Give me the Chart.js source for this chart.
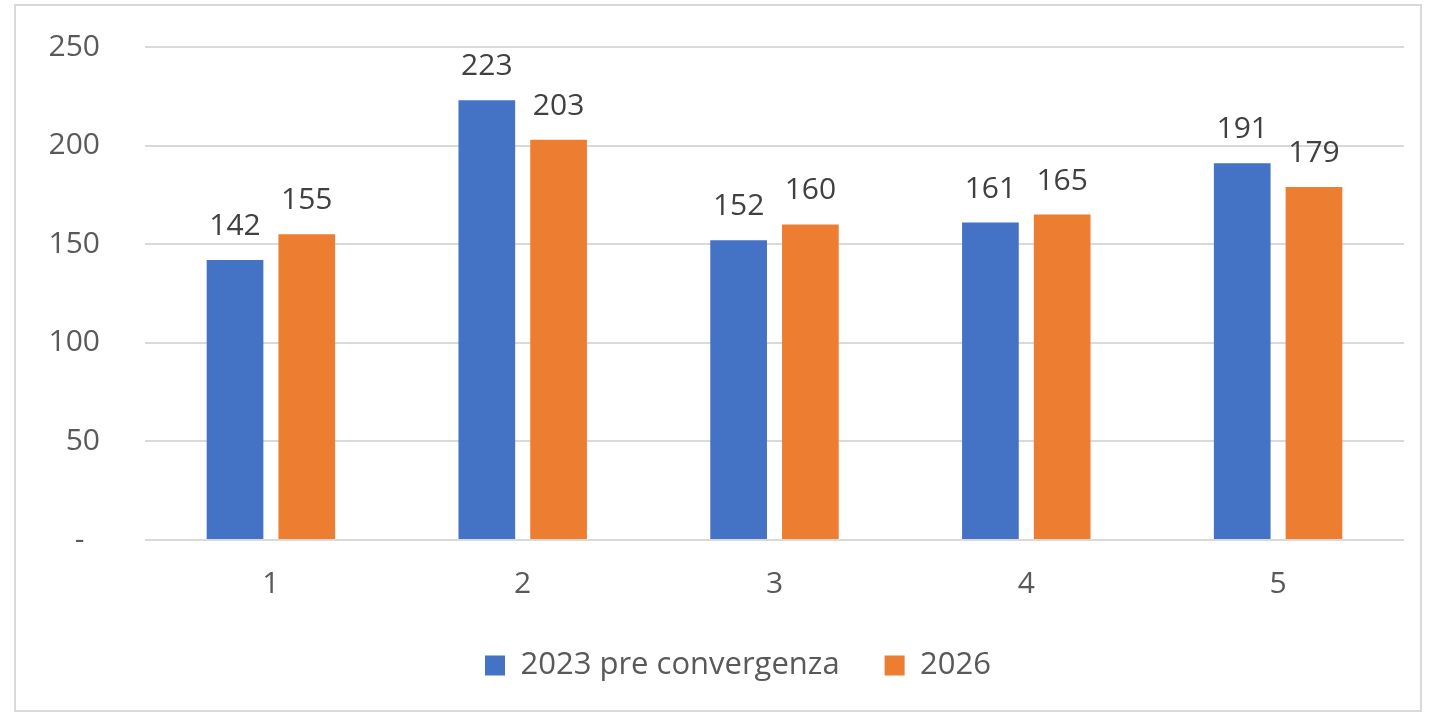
<!DOCTYPE html>
<html>
<head>
<meta charset="utf-8">
<script src="https://cdn.jsdelivr.net/npm/chart.js@4"></script>
<style>
  body { margin: 0; background: #fff; }
  #box {
    position: absolute; left: 14px; top: 4px; width: 1408px; height: 708px;
    box-sizing: border-box; border: 2px solid #d9d9d9; background: #fff;
  }
  #chart { display: block; }
</style>
</head>
<body>
<div id="box"><canvas id="chart" width="1404" height="704"></canvas></div>
<script>
// categories and series
var categories = ["1", "2", "3", "4", "5"];
var seriesNames = ["2023 pre convergenza", "2026"];
var values2023 = [142, 223, 152, 161, 191];
var values2026 = [155, 203, 160, 165, 179];
var yTicks = [0, 50, 100, 150, 200, 250];

var fontName = "'Open Sans', 'Noto Sans', sans-serif";

// draw the value above each bar
var valueLabels = {
  id: "valueLabels",
  afterDatasetsDraw: function (chart) {
    var ctx = chart.ctx;
    ctx.save();
    ctx.font = "30px " + fontName;
    ctx.fillStyle = "#404040";
    ctx.textAlign = "center";
    ctx.textBaseline = "alphabetic";
    chart.data.datasets.forEach(function (ds, i) {
      var meta = chart.getDatasetMeta(i);
      meta.data.forEach(function (bar, j) {
        ctx.fillText(ds.data[j], bar.x, bar.y - 25);
      });
    });
    ctx.restore();
  }
};

// nudge the legend a bit to the right, as in the original
var legendShift = {
  id: "legendShift",
  afterLayout: function (chart) {
    chart.legend.left += 28;
    chart.legend.right += 28;
  }
};

var ctx = document.getElementById("chart").getContext("2d");
var chart = new Chart(ctx, {
  type: "bar",
  data: {
    labels: categories,
    datasets: [
      {
        label: seriesNames[0],
        data: values2023,
        backgroundColor: "#4472c4",
        categoryPercentage: 0.57,
        barPercentage: 0.79
      },
      {
        label: seriesNames[1],
        data: values2026,
        backgroundColor: "#ed7d31",
        categoryPercentage: 0.57,
        barPercentage: 0.79
      }
    ]
  },
  options: {
    responsive: false,
    animation: false,
    layout: { padding: { top: 41, right: 16, left: 0, bottom: 19 } },
    plugins: {
      legend: {
        position: "bottom",
        labels: {
          boxWidth: 20,
          boxHeight: 20,
          padding: 45,
          color: "#595959",
          font: { family: fontName, size: 31 }
        }
      },
      tooltip: { enabled: false }
    },
    scales: {
      x: {
        afterFit: function (scale) { scale.height = 65; },
        grid: { display: false },
        border: { display: false },
        ticks: {
          color: "#595959",
          padding: 18,
          font: { family: fontName, size: 30 }
        }
      },
      y: {
        min: 0,
        max: 250,
        afterFit: function (scale) {
          scale.width = 129;
          scale.paddingTop = 0;
          scale.paddingBottom = 0;
        },
        afterBuildTicks: function (scale) {
          scale.ticks = yTicks.map(function (v) { return { value: v }; });
        },
        grid: { color: "#d9d9d9", lineWidth: 2, drawTicks: false },
        border: { display: false },
        ticks: {
          color: "#595959",
          padding: 45,
          font: { family: fontName, size: 30 },
          callback: function (v) { return v === 0 ? "-  " : v; }
        }
      }
    }
  },
  plugins: [valueLabels, legendShift]
});
</script>
</body>
</html>
